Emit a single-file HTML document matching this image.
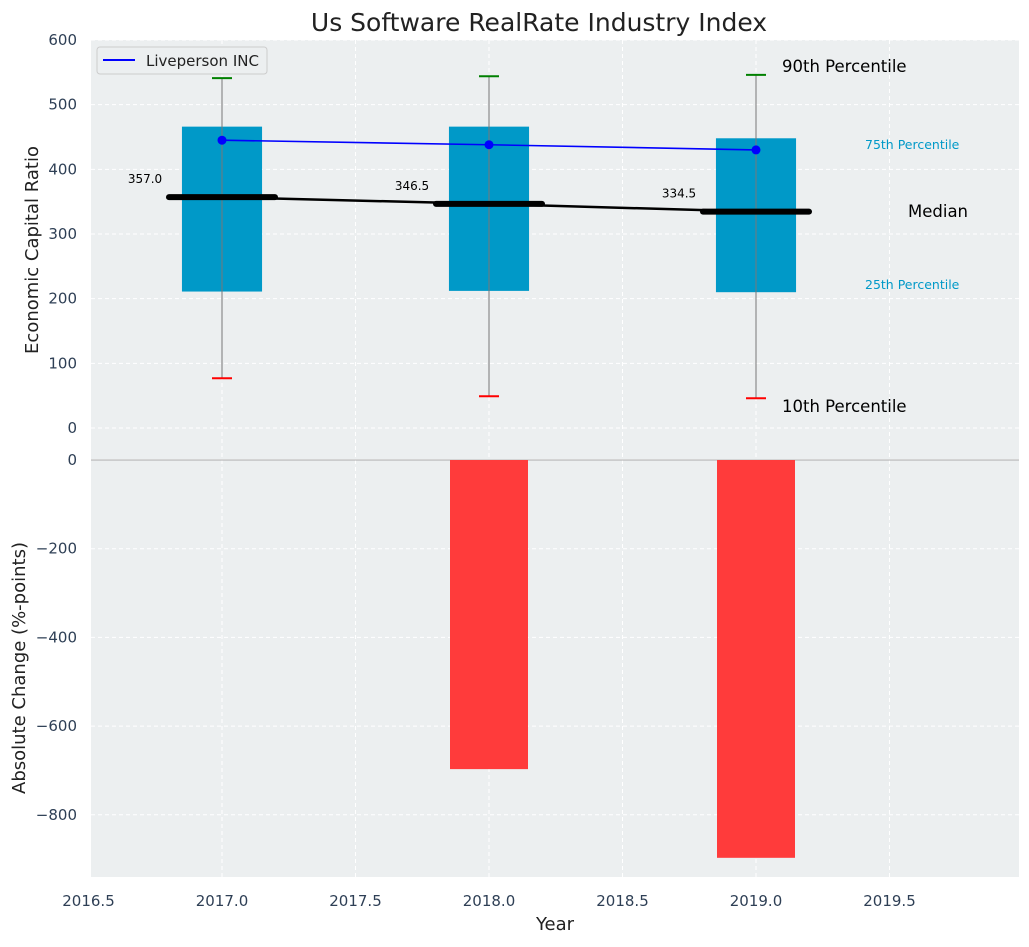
<!DOCTYPE html>
<html><head><meta charset="utf-8"><style>
body{margin:0;background:#fff;font-family:"Liberation Sans","DejaVu Sans",sans-serif}
svg text{font-family:"DejaVu Sans","Liberation Sans",sans-serif}
</style></head><body>
<svg id="c" width="1029" height="942"></svg>
<script>
const years=[2017,2018,2019];
const p10=[77,49,46];
const p25=[211,212,210];
const p50=[357.0,346.5,334.5];
const p75=[466,466,448];
const p90=[541,544,546];
const company=[445,438,430];
const changes=[0,-697,-897];
const xTicks=[2016.5,2017.0,2017.5,2018.0,2018.5,2019.0,2019.5];
const yTopTicks=[0,100,200,300,400,500,600];
const yBotTicks=[0,-200,-400,-600,-800];

const NS="http://www.w3.org/2000/svg";
const svg=document.getElementById('c');
function mk(t,a,parent){const e=document.createElementNS(NS,t);for(const k in a)e.setAttribute(k,a[k]);(parent||svg).appendChild(e);return e;}
const L=91,R=1019;
const x=v=>88.5+(v-2016.5)*267;
const yT=v=>428-v*0.6467;
const yb=v=>460+(-v)*0.4435;

let e=mk('rect',{x:L,y:40,width:R-L,height:419,fill:'#eceff0'});

e=mk('rect',{x:L,y:460,width:R-L,height:417,fill:'#eceff0'});


xTicks.forEach(t=>{
  e=mk('line',{x1:x(t),x2:x(t),y1:40,y2:459,stroke:'#fff','stroke-dasharray':'4,3'});
  
  e=mk('line',{x1:x(t),x2:x(t),y1:460,y2:877,stroke:'#fff','stroke-dasharray':'4,3'});
  
  e=mk('text',{x:x(t),y:906,'text-anchor':'middle','font-size':15,fill:'#2e3f55'});e.textContent=t.toFixed(1);
  
});
yTopTicks.forEach(t=>{
  e=mk('line',{x1:L,x2:R,y1:yT(t),y2:yT(t),stroke:'#fff','stroke-dasharray':'4,3'});
  
  e=mk('text',{x:77,y:yT(t)+5,'text-anchor':'end','font-size':15,fill:'#2e3f55'});e.textContent=t;
  
});
yBotTicks.forEach(t=>{
  e=mk('line',{x1:L,x2:R,y1:yb(t),y2:yb(t),stroke:'#fff','stroke-dasharray':'4,3'});
  
  e=mk('text',{x:77,y:yb(t)+5,'text-anchor':'end','font-size':15,fill:'#2e3f55'});e.textContent=t<0?'\u2212'+(-t):t;
  
});
e=mk('line',{x1:L,x2:R,y1:460,y2:460,stroke:'#aaa'});


years.forEach((yr,i)=>{
  const cx=x(yr),bw=0.3*267;
  e=mk('rect',{x:cx-bw/2,y:yT(p75[i]),width:bw,height:yT(p25[i])-yT(p75[i]),fill:'#0099c8'});
  
  e=mk('line',{x1:cx,x2:cx,y1:yT(p90[i]),y2:yT(p10[i]),stroke:'#777','stroke-width':1});
  
  e=mk('line',{x1:cx-10,x2:cx+10,y1:yT(p90[i]),y2:yT(p90[i]),stroke:'green','stroke-width':2});
  
  e=mk('line',{x1:cx-10,x2:cx+10,y1:yT(p10[i]),y2:yT(p10[i]),stroke:'red','stroke-width':2});
  
});
e=mk('polyline',{points:years.map((yr,i)=>x(yr)+','+yT(p50[i])).join(' '),fill:'none',stroke:'#000','stroke-width':2.5});

years.forEach((yr,i)=>{
  const cx=x(yr);
  e=mk('line',{x1:cx-53,x2:cx+53,y1:yT(p50[i]),y2:yT(p50[i]),stroke:'#000','stroke-width':6,'stroke-linecap':'round'});
  
  e=mk('text',{x:cx-77,y:yT(p50[i])-14,'text-anchor':'middle','font-size':12,fill:'#000'});e.textContent=p50[i].toFixed(1);
  
});
e=mk('polyline',{points:years.map((yr,i)=>x(yr)+','+yT(company[i])).join(' '),fill:'none',stroke:'blue','stroke-width':1.6});

years.forEach((yr,i)=>{
  e=mk('circle',{cx:x(yr),cy:yT(company[i]),r:4.5,fill:'blue'});
  
});
years.forEach((yr,i)=>{
  const v=changes[i];
  e=mk('rect',{x:x(yr)-39,y:460,width:78,height:yb(v)-460,fill:'#ff3b3b'});
  
});
const ann=[[782,72,'90th Percentile',16.5,'#000'],[865,149,'75th Percentile',12.5,'#0099c8'],[908,217,'Median',16.5,'#000'],[865,289,'25th Percentile',12.5,'#0099c8'],[782,412,'10th Percentile',16.5,'#000']];
ann.forEach(a=>{e=mk('text',{x:a[0],y:a[1],'font-size':a[3],fill:a[4]});e.textContent=a[2];
  });
e=mk('rect',{x:97,y:47,width:170,height:27,rx:3,fill:'#eceff0',stroke:'#ccc'});

e=mk('line',{x1:103,x2:135,y1:60,y2:60,stroke:'blue','stroke-width':2});

e=mk('text',{x:146,y:66,'font-size':15,fill:'#222'});e.textContent='Liveperson INC';

e=mk('text',{x:539,y:31,'text-anchor':'middle','font-size':25,fill:'#222'});e.textContent='Us Software RealRate Industry Index';

e=mk('text',{x:555,y:930,'text-anchor':'middle','font-size':18,fill:'#222'});e.textContent='Year';

e=mk('text',{x:0,y:0,'text-anchor':'middle','font-size':18,fill:'#222',transform:'translate(38,250) rotate(-90)'});e.textContent='Economic Capital Ratio';

e=mk('text',{x:0,y:0,'text-anchor':'middle','font-size':18,fill:'#222',transform:'translate(25,668) rotate(-90)'});e.textContent='Absolute Change (%-points)';

</script>
</body></html>
